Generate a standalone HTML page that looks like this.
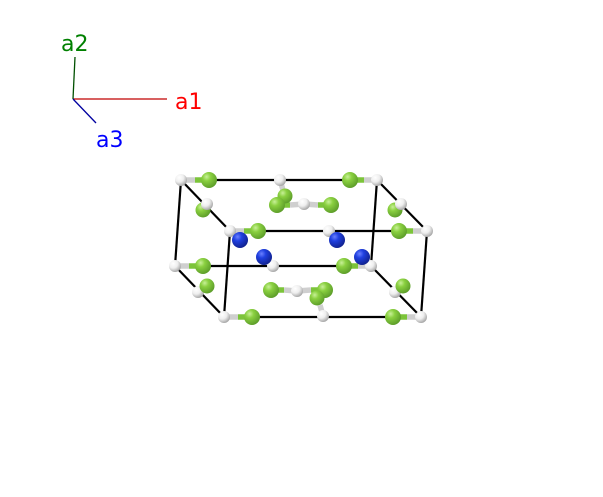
<!DOCTYPE html>
<html><head><meta charset="utf-8"><style>
html,body{margin:0;padding:0;background:#fff;}
svg{display:block;}
text{font-family:"DejaVu Sans","Liberation Sans",sans-serif;font-size:22px;}
</style></head><body>
<svg width="603" height="497" viewBox="0 0 603 497" xmlns="http://www.w3.org/2000/svg">
<defs>
<radialGradient id="g" cx="0.35" cy="0.3" r="0.75"><stop offset="0" stop-color="#c8f098"/><stop offset="0.35" stop-color="#8ad040"/><stop offset="1" stop-color="#5a9a28"/></radialGradient>
<radialGradient id="w" cx="0.35" cy="0.3" r="0.75"><stop offset="0" stop-color="#ffffff"/><stop offset="0.5" stop-color="#eeeeee"/><stop offset="1" stop-color="#a0a0a0"/></radialGradient>
<radialGradient id="b" cx="0.35" cy="0.3" r="0.75"><stop offset="0" stop-color="#6a80ff"/><stop offset="0.35" stop-color="#2040e0"/><stop offset="1" stop-color="#10208a"/></radialGradient>
</defs>
<line x1="73" y1="99" x2="167" y2="99" stroke="#c00000" stroke-width="1.3"/>
<line x1="73" y1="99" x2="75" y2="57" stroke="#005000" stroke-width="1.3"/>
<line x1="73" y1="99" x2="96" y2="123" stroke="#0000a0" stroke-width="1.3"/>
<text x="61" y="51" fill="#008000">a2</text>
<text x="175" y="109" fill="#ff0000">a1</text>
<text x="96" y="147" fill="#0000ff">a3</text>
<g stroke="#000" stroke-width="2.2" fill="none">
<line x1="181" y1="180" x2="377" y2="180"/>
<line x1="181" y1="180" x2="175" y2="266"/>
<line x1="377" y1="180" x2="371" y2="266"/>
<line x1="175" y1="266" x2="371" y2="266"/>
<line x1="181" y1="180" x2="230" y2="231"/>
<line x1="377" y1="180" x2="427" y2="231"/>
<line x1="175" y1="266" x2="224" y2="317"/>
<line x1="371" y1="266" x2="421" y2="317"/>
<line x1="230" y1="231" x2="427" y2="231"/>
<line x1="230" y1="231" x2="224" y2="317"/>
<line x1="427" y1="231" x2="421" y2="317"/>
<line x1="224" y1="317" x2="421" y2="317"/>
</g>
<g stroke-width="5.5" stroke-linecap="butt">
<g stroke="#cfcfcf">
<line x1="181" y1="180" x2="195" y2="180"/><line x1="377" y1="180" x2="364" y2="180"/>
<line x1="280" y1="180" x2="283" y2="190"/><line x1="304" y1="204" x2="290" y2="205"/><line x1="304" y1="204" x2="318" y2="205"/>
<line x1="230" y1="231" x2="244" y2="231"/><line x1="427" y1="231" x2="413" y2="231"/>
<line x1="175" y1="266" x2="189" y2="266"/><line x1="371" y1="266" x2="358" y2="266"/>
<line x1="297" y1="291" x2="284" y2="290"/><line x1="297" y1="291" x2="311" y2="290"/>
<line x1="323" y1="316" x2="320" y2="305"/>
<line x1="224" y1="317" x2="238" y2="317"/><line x1="421" y1="317" x2="407" y2="317"/>
</g>
<g stroke="#7cc43a">
<line x1="195" y1="180" x2="209" y2="180"/><line x1="364" y1="180" x2="350" y2="180"/>
<line x1="290" y1="205" x2="277" y2="205"/><line x1="318" y1="205" x2="331" y2="205"/>
<line x1="244" y1="231" x2="258" y2="231"/><line x1="413" y1="231" x2="399" y2="231"/>
<line x1="189" y1="266" x2="203" y2="266"/><line x1="358" y1="266" x2="344" y2="266"/>
<line x1="284" y1="290" x2="271" y2="290"/><line x1="311" y1="290" x2="325" y2="290"/>
<line x1="238" y1="317" x2="252" y2="317"/><line x1="407" y1="317" x2="393" y2="317"/>
</g>
</g>
<g>
<circle cx="209" cy="180" r="8" fill="url(#g)"/>
<circle cx="350" cy="180" r="8" fill="url(#g)"/>
<circle cx="181" cy="180" r="6" fill="url(#w)"/>
<circle cx="377" cy="180" r="6" fill="url(#w)"/>
<circle cx="280" cy="180" r="6" fill="url(#w)"/>
<circle cx="285" cy="196" r="7.5" fill="url(#g)"/>
<circle cx="203" cy="210" r="7.5" fill="url(#g)"/>
<circle cx="395" cy="210" r="7.5" fill="url(#g)"/>
<circle cx="207" cy="204" r="6" fill="url(#w)"/>
<circle cx="401" cy="204" r="6" fill="url(#w)"/>
<circle cx="277" cy="205" r="8" fill="url(#g)"/>
<circle cx="331" cy="205" r="8" fill="url(#g)"/>
<circle cx="304" cy="204" r="6" fill="url(#w)"/>
<circle cx="258" cy="231" r="8" fill="url(#g)"/>
<circle cx="399" cy="231" r="8" fill="url(#g)"/>
<circle cx="230" cy="231" r="6" fill="url(#w)"/>
<circle cx="427" cy="231" r="6" fill="url(#w)"/>
<circle cx="329" cy="231" r="6" fill="url(#w)"/>
<circle cx="240" cy="240" r="8" fill="url(#b)"/>
<circle cx="337" cy="240" r="8" fill="url(#b)"/>
<circle cx="273" cy="266" r="6" fill="url(#w)"/>
<circle cx="264" cy="257" r="8" fill="url(#b)"/>
<circle cx="203" cy="266" r="8" fill="url(#g)"/>
<circle cx="344" cy="266" r="8" fill="url(#g)"/>
<circle cx="175" cy="266" r="6" fill="url(#w)"/>
<circle cx="371" cy="266" r="6" fill="url(#w)"/>
<circle cx="362" cy="257" r="8" fill="url(#b)"/>
<circle cx="198" cy="292" r="6" fill="url(#w)"/>
<circle cx="395" cy="292" r="6" fill="url(#w)"/>
<circle cx="207" cy="286" r="7.5" fill="url(#g)"/>
<circle cx="403" cy="286" r="7.5" fill="url(#g)"/>
<circle cx="271" cy="290" r="8" fill="url(#g)"/>
<circle cx="325" cy="290" r="8" fill="url(#g)"/>
<circle cx="297" cy="291" r="6" fill="url(#w)"/>
<circle cx="323" cy="316" r="6" fill="url(#w)"/>
<circle cx="317" cy="298" r="7.5" fill="url(#g)"/>
<circle cx="252" cy="317" r="8" fill="url(#g)"/>
<circle cx="393" cy="317" r="8" fill="url(#g)"/>
<circle cx="224" cy="317" r="6" fill="url(#w)"/>
<circle cx="421" cy="317" r="6" fill="url(#w)"/>
</g>
</svg>
</body></html>
